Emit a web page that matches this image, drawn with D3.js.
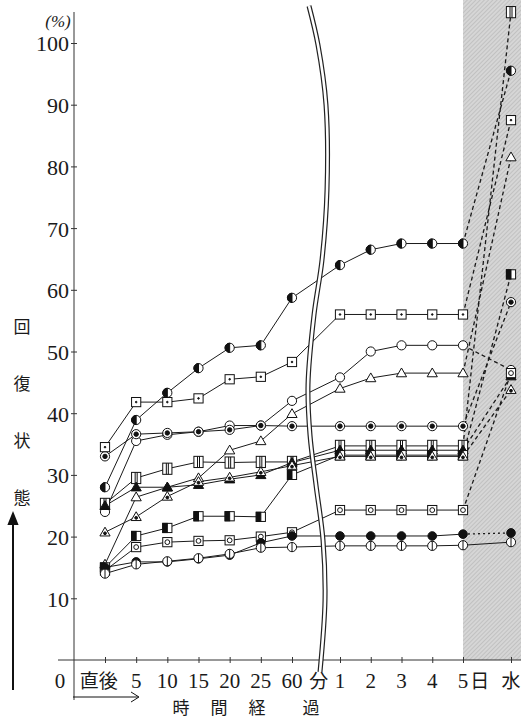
<!DOCTYPE html>
<html>
<head>
<meta charset="utf-8">
<script src="https://cdn.jsdelivr.net/npm/d3@7"></script>
<style>
  body { margin: 0; background: #fff; }
  text { fill: #1a1a1a; }
</style>
</head>
<body>
<script>
// time points: minutes after (直後..60), then days 1-5, then 水
const xKeys = ["直後", "5", "10", "15", "20", "25", "60", "1", "2", "3", "4", "5", "水"];
const tickLabels = ["直後", "5", "10", "15", "20", "25", "60", "分", "1", "2", "3", "4", "5", "日", "水"];
const tickLabelPos = [-0.2, 1, 2, 3, 4, 5, 6, 6.56, 7, 8, 9, 10, 11, 11.35, 12];
const yTicks = [10, 20, 30, 40, 50, 60, 70, 80, 90, 100];
const yTitle = ["回", "復", "状", "態"];
const xTitle = ["時", "間", "経", "過"];

// recovery (%) per series, one value per time point
const halfCircle = [28, 38.9, 43.3, 47.3, 50.6, 51, 58.7, 64, 66.5, 67.5, 67.5, 67.5, 95.5];
const dotSquare  = [34.5, 41.8, 41.8, 42.4, 45.5, 45.9, 48.3, 56, 56, 56, 56, 56, 87.5];
const openCircle = [24, 35.5, 36.5, 37, 38, 38, 42, 45.8, 50, 51, 51, 51, 47];
const openTri    = [15.5, 26.4, 28, 29.5, 34, 35.5, 39.9, 44, 45.7, 46.5, 46.5, 46.5, 81.5];
const dotCircle  = [33, 36.6, 36.8, 37, 37.3, 38, 37.9, 37.9, 37.9, 37.9, 37.9, 37.9, 58];
const barSquare  = [25.3, 29.5, 31, 32.1, 32, 32.1, 32.1, 34.7, 34.7, 34.7, 34.7, 34.7, 105];
const fillTri    = [25, 28, 28, 28.4, 29.3, 30, 32, 34, 34, 34, 34, 34, 46];
const halfSquare = [15, 20.1, 21.4, 23.3, 23.3, 23.2, 30, 33.2, 33.2, 33.2, 33.2, 33.2, 62.5];
const ringSquare = [14.5, 18.3, 19.1, 19.3, 19.4, 20, 20.7, 24.3, 24.3, 24.3, 24.3, 24.3, 46.5];
const fillDot    = [15, 15.9, 15.9, 16.4, 17, 19, 20.1, 20.1, 20.1, 20.1, 20.1, 20.4, 20.6];
const barCircle  = [14, 15.5, 16, 16.5, 17.2, 18.2, 18.3, 18.5, 18.5, 18.5, 18.5, 18.6, 19.1];
const dotTri     = [20.7, 23.2, 26.5, 28.9, 29.6, 30.5, 31.5, 33, 33, 33, 33, 33, 43.8];

const seriesList = [halfCircle, dotSquare, openCircle, openTri, dotCircle, barSquare,
                    fillTri, halfSquare, ringSquare, fillDot, barCircle, dotTri];
// marker shape and style of the last (water) segment
const seriesMarker = ["halfC", "sqDot", "circ", "tri", "circDot", "sqBar",
                      "triFill", "sqHalf", "sqCirc", "dot", "circBar", "triDot"];
const lastDash = ["4,3", "4,3", "4,3", "4,3", "4,3", "4,3", "4,3", "4,3", "4,3", "2,3", null, "4,3"];

const width = 521, height = 719;

const svg = d3.select("body").append("svg")
    .attr("width", width)
    .attr("height", height)
    .style("font-family", "'Liberation Serif', serif");

const x = d3.scaleLinear()
    .domain([0, 6, 7, 11, 12])
    .range([105, 292, 340, 463, 511]);

const y = d3.scaleLinear()
    .domain([0, 100])
    .range([660, 43]);

// shaded region (after 5 days)
const defs = svg.append("defs");
const pat = defs.append("pattern")
    .attr("id", "hatch")
    .attr("patternUnits", "userSpaceOnUse")
    .attr("width", 3).attr("height", 3)
    .attr("patternTransform", "rotate(45)");
pat.append("rect").attr("width", 3).attr("height", 3).attr("fill", "#d6d6d6");
pat.append("line").attr("x1", 0).attr("y1", 0).attr("x2", 0).attr("y2", 3)
    .attr("stroke", "#b4b4b4").attr("stroke-width", 1.2);

svg.append("rect")
    .attr("x", x(11))
    .attr("y", 0)
    .attr("width", width - x(11))
    .attr("height", y(0))
    .attr("fill", "url(#hatch)");

// axes
svg.append("line")
    .attr("x1", 74).attr("x2", 74)
    .attr("y1", 12).attr("y2", 700)
    .attr("stroke", "#333").attr("stroke-width", 1);
svg.append("line")
    .attr("x1", 58).attr("x2", width)
    .attr("y1", y(0)).attr("y2", y(0))
    .attr("stroke", "#333").attr("stroke-width", 1);

const yAxis = svg.append("g")
    .attr("transform", "translate(74,0)")
    .call(d3.axisLeft(y).tickValues(yTicks).tickSize(3).tickPadding(2));
yAxis.select(".domain").remove();
yAxis.selectAll(".tick line").attr("x2", 3).attr("x1", -3).attr("stroke", "#333");
yAxis.selectAll(".tick text")
    .style("font-family", "'Liberation Serif', serif")
    .style("font-size", "22px")
    .attr("fill", "#1a1a1a")
    .attr("dy", "0.36em");

const xAxis = svg.append("g")
    .attr("transform", `translate(0,${y(0)})`)
    .call(d3.axisBottom(x).tickValues(d3.range(xKeys.length)).tickSize(3).tickFormat(""));
xAxis.select(".domain").remove();
xAxis.selectAll(".tick line").attr("y1", -3).attr("y2", 3).attr("stroke", "#333");

// x tick labels
svg.append("g").selectAll("text")
    .data(tickLabels)
    .join("text")
    .attr("x", (d, i) => x(tickLabelPos[i]))
    .attr("y", 688)
    .attr("text-anchor", "middle")
    .style("font-family", d => /[0-9]/.test(d) ? "'Liberation Serif', serif" : "'Noto Sans CJK JP', sans-serif")
    .style("font-size", d => /[0-9]/.test(d) ? "21px" : "19px")
    .text(d => d);

svg.append("text").attr("x", 60).attr("y", 688)
    .attr("text-anchor", "middle").style("font-size", "21px").text("0");

svg.append("text").attr("x", 58).attr("y", 27)
    .attr("text-anchor", "middle").style("font-size", "17px").style("font-style", "italic").text("(%)");

// y title, vertical characters + arrow
svg.append("g").selectAll("text")
    .data(yTitle)
    .join("text")
    .attr("x", 22)
    .attr("y", (d, i) => 327 + i * 57)
    .attr("dy", "0.35em")
    .attr("text-anchor", "middle")
    .style("font-family", "'Noto Sans CJK JP', sans-serif")
    .style("font-size", "17px")
    .text(d => d);

defs.append("marker").attr("id", "arrow")
    .attr("viewBox", "0 0 10 10").attr("refX", 5).attr("refY", 5)
    .attr("markerWidth", 7).attr("markerHeight", 9).attr("orient", "auto")
    .append("path").attr("d", "M0,1 L10,5 L0,9 Z").attr("fill", "#111");

svg.append("line")
    .attr("x1", 13).attr("x2", 13).attr("y1", 690).attr("y2", 518)
    .attr("stroke", "#111").attr("stroke-width", 2)
    .attr("marker-end", "url(#arrow)");

// x title with arrow
svg.append("line")
    .attr("x1", 73).attr("x2", 138).attr("y1", 697).attr("y2", 697)
    .attr("stroke", "#111").attr("stroke-width", 1);
svg.append("path")
    .attr("d", "M131,692 L139,697 L131,702")
    .attr("fill", "none").attr("stroke", "#111").attr("stroke-width", 1);

svg.append("g").selectAll("text")
    .data(xTitle)
    .join("text")
    .attr("x", (d, i) => [181, 219, 257, 311][i])
    .attr("y", 714)
    .attr("text-anchor", "middle")
    .style("font-family", "'Noto Sans CJK JP', sans-serif")
    .style("font-size", "17px")
    .text(d => d);

// series lines
const solidLine = d3.line().x((d, i) => x(i)).y(d => y(d));
const gLines = svg.append("g").attr("fill", "none").attr("stroke", "#1a1a1a").attr("stroke-width", 1);

seriesList.forEach((vals, si) => {
    gLines.append("path")
        .attr("d", solidLine(vals.slice(0, 12)));
    gLines.append("line")
        .attr("x1", x(11)).attr("y1", y(vals[11]))
        .attr("x2", x(12)).attr("y2", y(vals[12]))
        .attr("stroke-width", lastDash[si] ? 1.3 : 1)
        .attr("stroke-dasharray", lastDash[si]);
});

// break line between minutes and days
const breakPts = [[309, 6], [318, 45], [326, 105], [327, 190], [322, 260], [314, 315],
                  [308, 385], [310, 435], [316, 485], [323, 540], [325, 600], [320, 672]];
const breakLine = d3.line().curve(d3.curveCatmullRom);
svg.append("path").attr("d", breakLine(breakPts))
    .attr("fill", "none").attr("stroke", "#222").attr("stroke-width", 5);
svg.append("path").attr("d", breakLine(breakPts))
    .attr("fill", "none").attr("stroke", "#fff").attr("stroke-width", 2.6);

// markers
const r = 4.6;
function drawMarker(g, type) {
    const tri = `M0,${-r - 0.5} L${r + 0.5},${r * 0.8} L${-r - 0.5},${r * 0.8} Z`;
    const st = { stroke: "#111", "stroke-width": 1 };
    const add = (tag, attrs) => {
        const el = g.append(tag);
        Object.entries(Object.assign({}, st, attrs)).forEach(([k, v]) => el.attr(k, v));
        return el;
    };
    switch (type) {
        case "halfC":
            add("circle", { r: r, fill: "#fff" });
            add("path", { d: `M0,${-r} A${r},${r} 0 0 0 0,${r} Z`, fill: "#111" });
            break;
        case "sqDot":
            add("rect", { x: -r, y: -r, width: 2 * r, height: 2 * r, fill: "#fff" });
            add("circle", { r: 0.8, fill: "#111" });
            break;
        case "circ":
            add("circle", { r: r, fill: "#fff" });
            break;
        case "tri":
            add("path", { d: tri, fill: "#fff" });
            break;
        case "circDot":
            add("circle", { r: r, fill: "#fff" });
            add("circle", { r: 2.2, fill: "#111" });
            break;
        case "sqBar":
            add("rect", { x: -r, y: -r - 1, width: 2 * r, height: 2 * r + 2, fill: "#fff" });
            add("line", { x1: -1, x2: -1, y1: -r - 1, y2: r + 1 });
            add("line", { x1: 1, x2: 1, y1: -r - 1, y2: r + 1 });
            break;
        case "triFill":
            add("path", { d: tri, fill: "#111" });
            break;
        case "sqHalf":
            add("rect", { x: -r, y: -r, width: 2 * r, height: 2 * r, fill: "#fff" });
            add("rect", { x: -r, y: -r, width: r, height: 2 * r, fill: "#111" });
            break;
        case "sqCirc":
            add("rect", { x: -r, y: -r, width: 2 * r, height: 2 * r, fill: "#fff" });
            add("circle", { r: 2.4, fill: "#fff" });
            break;
        case "dot":
            add("circle", { r: r - 0.3, fill: "#111" });
            break;
        case "circBar":
            add("circle", { r: r, fill: "#fff" });
            add("line", { x1: 0, x2: 0, y1: -r, y2: r });
            break;
        case "triDot":
            add("path", { d: tri, fill: "#fff" });
            add("circle", { cy: 1, r: 1.4, fill: "#111" });
            break;
    }
}

seriesList.forEach((vals, si) => {
    svg.append("g").selectAll("g")
        .data(vals)
        .join("g")
        .attr("transform", (d, i) => `translate(${x(i)},${y(d)})`)
        .each(function () { drawMarker(d3.select(this), seriesMarker[si]); });
});
</script>
</body>
</html>
